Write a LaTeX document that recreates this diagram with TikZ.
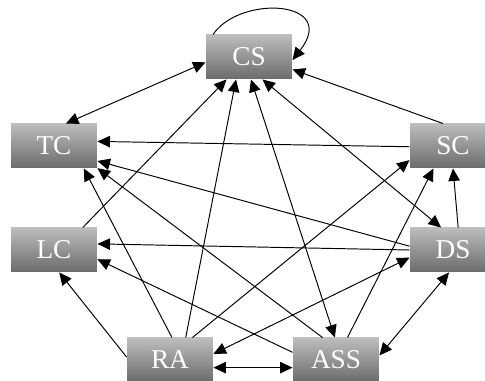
\documentclass[tikz,border=0pt]{standalone}
\usepackage{fontspec}
\setmainfont{Liberation Serif}
\usetikzlibrary{arrows.meta}
\begin{document}
\begin{tikzpicture}[x=0.02cm,y=-0.02cm,line width=0.55pt,
    >={Triangle[length=2.5mm,width=2.3mm]},
    state/.style={rectangle,minimum width=1.72cm,minimum height=0.88cm,inner sep=0pt,
      top color=black!26,bottom color=black!58,text=white,
      font=\fontsize{15.5}{18}\selectfont}]
  \clip (0,0) rectangle (485,381);
  % states
  \node[state] (CS)  at (249,57)  {CS};
  \node[state] (TC)  at (54,146)  {TC};
  \node[state] (SC)  at (453,146) {SC};
  \node[state] (LC)  at (54,250)  {LC};
  \node[state] (DS)  at (453,250) {DS};
  \node[state] (RA)  at (170,360) {RA};
  \node[state] (ASS) at (336,360) {ASS};
  % into CS
  \draw[->] (CS.148) .. controls +(27,-40) and +(47,-60) .. (CS.-4);
  \draw[<->] (TC.62) -- (CS.187);
  \draw[->] (SC.114) -- (CS.-16);
  \draw[->] (LC.38) -- (CS.225);
  \draw[->] (RA.55) -- (CS.240);
  \draw[<->] (ASS.93) -- (CS.275);
  \draw[<->] (DS.118) -- (CS.301);
  % into TC
  \draw[->] (SC.181) -- (TC.6);
  \draw[->] (DS.175) -- (TC.-19);
  \draw[->] (RA.85) -- (TC.-37);
  \draw[->] (ASS.121) -- (TC.-27);
  % into LC
  \draw[->] (DS.180) -- (LC.8);
  \draw[->] (ASS.170) -- (LC.-12);
  \draw[->] (RA.176) -- (LC.283);
  % into SC
  \draw[->] (RA.45) -- (SC.198);
  \draw[->] (ASS.63) -- (SC.229);
  \draw[->] (DS.77) -- (SC.270);
  % bottom row
  \draw[<->] (RA.8) -- (DS.190);
  \draw[<->] (RA.-10) -- (ASS.190);
  \draw[<->] (ASS.6) -- (DS.260);
\end{tikzpicture}
\end{document}
